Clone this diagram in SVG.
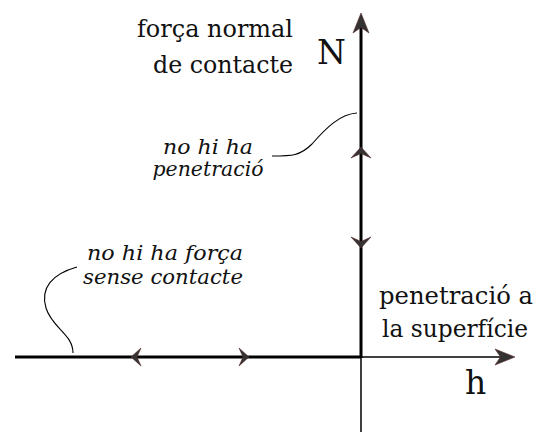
<svg xmlns="http://www.w3.org/2000/svg" width="539" height="433" viewBox="0 0 539 433">
<style>
.rm{font-family:"DejaVu Serif","Liberation Serif",serif;fill:#111;}
.it{font-family:"DejaVu Serif","Liberation Serif",serif;font-style:italic;fill:#111;}
.thick{stroke:#000;stroke-width:3;fill:none;}
.thin{stroke:#000;stroke-width:1.5;fill:none;}
.cal{stroke:#000;stroke-width:1.1;fill:none;}
.ah{fill:#333;stroke:#5a2a2a;stroke-width:0.6;stroke-linejoin:miter;}
</style>
<rect width="539" height="433" fill="#fff"/>
<g id="connectors">
<line class="thick" x1="361" y1="24" x2="361" y2="358"/>
<line class="thin" x1="361" y1="357" x2="361" y2="432"/>
<line class="thick" x1="15" y1="357" x2="361" y2="357"/>
<line class="thin" x1="361" y1="357" x2="505" y2="357"/>
<path class="ah" d="M361,13 L369,33 L361,27.5 L353,33 Z"/>
<path class="ah" d="M361,147 L371,158 L361,153.5 L351,158 Z"/>
<path class="ah" d="M361,248 L371,237 L361,241.5 L351,237 Z"/>
<path class="ah" d="M515,357 L495,365 L500.5,357 L495,349 Z"/>
<path class="ah" d="M131,357 L141,366 L137,357 L141,348 Z"/>
<path class="ah" d="M249,357 L239,366 L243,357 L239,348 Z"/>
<path class="cal" d="M272,156 C292,156 300,156 312,144 C326,128 340,114 357,113"/>
<path class="cal" d="M77,267 C52,274 40,288 46,308 C52,328 73,334 73,353"/>
</g>
<g id="label-force">
<text class="rm" x="293" y="37" font-size="25" text-anchor="end" textLength="156" lengthAdjust="spacingAndGlyphs">força normal</text>
<text class="rm" x="293" y="72.5" font-size="25" text-anchor="end" textLength="140" lengthAdjust="spacingAndGlyphs">de contacte</text>
</g>
<g id="label-N"><text class="rm" x="317" y="64" font-size="33">N</text></g>
<g id="label-h"><text class="rm" x="465" y="394" font-size="33">h</text></g>
<g id="label-pen">
<text class="rm" x="379" y="304" font-size="25" textLength="154" lengthAdjust="spacingAndGlyphs">penetració a</text>
<text class="rm" x="382" y="337" font-size="25" textLength="146" lengthAdjust="spacingAndGlyphs">la superfície</text>
</g>
<g id="label-nopen">
<text class="it" x="208" y="154" font-size="21" text-anchor="middle" textLength="90" lengthAdjust="spacingAndGlyphs">no hi ha</text>
<text class="it" x="208" y="176" font-size="21" text-anchor="middle" textLength="111" lengthAdjust="spacingAndGlyphs">penetració</text>
</g>
<g id="label-noforce">
<text class="it" x="165" y="260" font-size="21" text-anchor="middle" textLength="156" lengthAdjust="spacingAndGlyphs">no hi ha força</text>
<text class="it" x="163" y="284" font-size="21" text-anchor="middle" textLength="160" lengthAdjust="spacingAndGlyphs">sense contacte</text>
</g>
</svg>
